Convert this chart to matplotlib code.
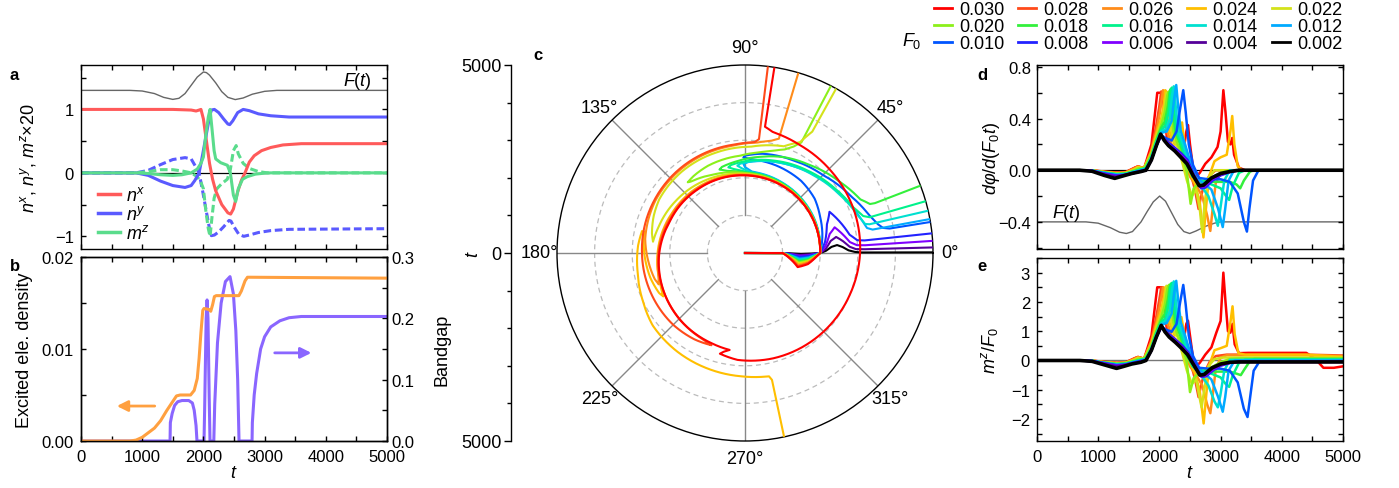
import numpy as np
import matplotlib
matplotlib.use('Agg')
import matplotlib.pyplot as plt
from matplotlib.lines import Line2D
from matplotlib.ticker import MultipleLocator, FixedLocator, FormatStrFormatter, FuncFormatter

plt.rcParams['font.family'] = ['Liberation Sans', 'DejaVu Sans']
plt.rcParams['mathtext.fontset'] = 'custom'
plt.rcParams['mathtext.rm'] = 'Liberation Sans'
plt.rcParams['mathtext.it'] = 'Liberation Sans:italic'
plt.rcParams['mathtext.bf'] = 'Liberation Sans:bold'
plt.rcParams['font.size'] = 12
plt.rcParams['axes.linewidth'] = 1.0

# ---------------- panel a : spin components ----------------
field_a = [(0, 1.30), (800, 1.30), (1000, 1.29), (1200, 1.25), (1350, 1.19), (1500, 1.158), (1600, 1.175),
           (1700, 1.25), (1800, 1.38), (1900, 1.51), (2000, 1.59), (2050, 1.58), (2100, 1.54), (2200, 1.42),
           (2300, 1.28), (2400, 1.19), (2520, 1.155), (2650, 1.18), (2800, 1.24), (3000, 1.285), (3200, 1.30),
           (5000, 1.30)]
nx_a = [(0, 1.0), (1500, 1.0), (1800, 0.99), (1880, 0.975), (1930, 0.99), (1960, 1.0), (2000, 0.85),
        (2050, 0.5), (2100, 0.15), (2150, -0.1), (2200, -0.28), (2300, -0.5), (2400, -0.63), (2445, -0.65),
        (2490, -0.57), (2560, -0.3), (2620, -0.12), (2680, 0.0), (2750, 0.17), (2830, 0.27), (2950, 0.35),
        (3100, 0.4), (3300, 0.44), (3600, 0.46), (5000, 0.46)]
ny_a = [(0, 0), (900, 0), (1100, -0.04), (1300, -0.13), (1500, -0.2), (1700, -0.23), (1800, -0.2),
        (1860, -0.12), (1930, 0.0), (1990, 0.3), (2050, 0.62), (2100, 0.88), (2130, 0.99), (2180, 1.0),
        (2250, 0.95), (2330, 0.85), (2400, 0.77), (2430, 0.76), (2480, 0.82), (2560, 0.95), (2650, 1.0),
        (2750, 0.98), (2900, 0.93), (3100, 0.9), (3400, 0.88), (5000, 0.88)]
nz_a = [(0, 0), (900, 0), (1100, 0.04), (1300, 0.13), (1500, 0.21), (1700, 0.24), (1800, 0.22),
        (1860, 0.12), (1930, 0.0), (1990, -0.3), (2050, -0.62), (2100, -0.88), (2130, -0.99), (2180, -0.98),
        (2250, -0.93), (2330, -0.85), (2420, -0.75), (2450, -0.76), (2500, -0.85), (2580, -0.97),
        (2660, -1.0), (2750, -0.98), (2900, -0.94), (3100, -0.91), (3400, -0.89), (5000, -0.88)]
mz_a = [(0, 0), (900, 0), (1100, -0.01), (1300, -0.03), (1500, -0.04), (1650, -0.03), (1800, 0.0),
        (1900, 0.06), (1960, 0.15), (2000, 0.25), (2040, 0.6), (2080, 0.88), (2109, 1.0), (2140, 0.7),
        (2175, 0.35), (2201, 0.22), (2283, 0.16), (2391, 0.12), (2440, 0.0), (2490, -0.35), (2527, -0.45),
        (2570, -0.25), (2640, -0.1), (2717, -0.06), (2850, -0.02), (3043, 0), (5000, 0)]
mperp_a = [(0, 0), (900, 0), (1100, 0.02), (1300, 0.05), (1500, 0.05), (1650, 0.03), (1800, 0.0),
           (1900, -0.06), (1960, -0.15), (2000, -0.25), (2040, -0.6), (2080, -0.88), (2109, -1.0),
           (2140, -0.7), (2175, -0.4), (2220, -0.25), (2300, -0.17), (2391, -0.1), (2440, 0.05),
           (2490, 0.35), (2535, 0.43), (2570, 0.3), (2650, 0.15), (2750, 0.07), (2900, 0.02), (3043, 0),
           (5000, 0)]

# ---------------- panel b : excitation and gap ----------------
density_b = [(0, 0), (800, 0), (900, 0.0001), (1000, 0.0004), (1100, 0.0009), (1200, 0.0014),
             (1300, 0.0022), (1400, 0.0033), (1500, 0.0043), (1560, 0.0049), (1620, 0.005), (1790, 0.005),
             (1850, 0.0055), (1900, 0.0068), (1930, 0.009), (1960, 0.0118), (1990, 0.0142), (2010, 0.0144),
             (2090, 0.0143), (2120, 0.0141), (2150, 0.0148), (2180, 0.0157), (2210, 0.0158), (2580, 0.0158),
             (2620, 0.0163), (2680, 0.0174), (2720, 0.0178), (2760, 0.0178), (5000, 0.0177)]
gap_b = [(0, 0), (1455, 0), (1460, 0.03), (1490, 0.045), (1530, 0.058), (1580, 0.064), (1650, 0.066),
         (1760, 0.066), (1820, 0.062), (1850, 0.05), (1880, 0.025), (1895, 0.0), (2010, 0.0), (2020, 0.05),
         (2045, 0.2), (2060, 0.23), (2075, 0.2), (2095, 0.07), (2108, 0.0), (2170, 0.0), (2185, 0.06),
         (2230, 0.16), (2290, 0.225), (2360, 0.26), (2435, 0.268), (2490, 0.24), (2530, 0.18), (2560, 0.1),
         (2582, 0.0), (2795, 0.0), (2800, 0.03), (2830, 0.075), (2870, 0.11), (2935, 0.15), (3000, 0.17),
         (3100, 0.186), (3250, 0.196), (3400, 0.201), (3600, 0.203), (5000, 0.203)]

# ---------------- field amplitudes ----------------
F0_values = [0.030, 0.028, 0.026, 0.024, 0.022, 0.020, 0.018, 0.016, 0.014, 0.012, 0.010, 0.008, 0.006,
             0.004, 0.002]
F0_colors = ['#ff0000', '#ff4a1a', '#ff8c1a', '#ffbf00', '#d4e21a', '#8cf01a', '#33f03c', '#00f28c',
             '#00e0d0', '#00aaff', '#0055ff', '#2222ff', '#8000ff', '#550099', '#000000']

# ---------------- panel c : phase (degrees) vs t ----------------
phase_030 = [(0, 0), (1000, 0), (1200, -7), (1450, -15), (1700, -10), (1900, -3), (2000, 0), (2030, 42),
             (2065, 90), (2110, 128), (2170, 158), (2280, 180), (2380, 203), (2480, 226), (2560, 250),
             (2610, 261), (2680, 258), (2760, 256), (2850, 266), (2900, 285), (2950, 312), (3000, 338),
             (3060, 360), (3110, 380), (3160, 403), (3220, 423), (3300, 437), (3400, 441), (5000, 441)]
phase_028 = [(0, 0), (1000, 0), (1200, -6.3), (1450, -14), (1700, -9), (1900, -2.8), (2000, 0), (2032, 40),
             (2070, 88), (2120, 125), (2180, 155), (2300, 180), (2450, 220), (2560, 245), (2610, 250),
             (2660, 240), (2700, 225), (2740, 180), (2790, 150), (2850, 120), (2900, 95), (2960, 85),
             (3050, 83), (5000, 83)]
phase_026 = [(0, 0), (1000, 0), (1200, -5.8), (1450, -13), (1700, -8.5), (1900, -2.6), (2000, 0), (2033, 38),
             (2075, 86), (2130, 122), (2200, 152), (2300, 178), (2380, 195), (2440, 200), (2500, 196),
             (2580, 185), (2680, 172), (2760, 150), (2820, 120), (2870, 97), (2950, 84), (3060, 77),
             (3170, 73.5), (5000, 73.5)]
phase_024 = [(0, 0), (1000, 0), (1200, -5.4), (1450, -12), (1700, -7.8), (1900, -2.4), (2000, 0), (2035, 36),
             (2080, 84), (2140, 120), (2210, 150), (2310, 176), (2400, 200), (2460, 208), (2520, 205),
             (2600, 195), (2680, 180), (2740, 168), (2800, 168), (2850, 176), (2900, 190), (3000, 205),
             (3120, 218), (3180, 235), (3230, 252), (3280, 268), (3340, 281), (3450, 282), (5000, 282)]
phase_022 = [(0, 0), (1000, 0), (1200, -5), (1450, -11), (1700, -7.2), (1900, -2.2), (2000, 0), (2038, 36),
             (2085, 80), (2120, 95), (2200, 118), (2300, 142), (2400, 163), (2465, 173), (2530, 168),
             (2620, 158), (2690, 148), (2740, 128), (2780, 106), (2830, 87), (3020, 70), (3290, 63.6),
             (3690, 61), (5000, 61)]
phase_020 = [(0, 0), (1000, 0), (1200, -4.5), (1450, -10), (1700, -6.5), (1900, -2), (2000, 0), (2040, 34),
             (2085, 66), (2125, 90), (2250, 112), (2380, 127), (2420, 129), (2460, 124), (2520, 113),
             (2590, 93), (2700, 82), (2810, 75), (2950, 69), (3100, 65.6), (3300, 63), (5000, 62.8)]
phase_018 = [(0, 0), (1000, 0), (1200, -4), (1450, -9), (1700, -6), (1900, -1.8), (2000, 0), (2045, 33),
             (2095, 64), (2135, 90), (2230, 102), (2320, 107), (2370, 105), (2450, 95), (2600, 80),
             (2750, 68), (2900, 54), (3150, 37), (3380, 25), (3570, 21.4), (3700, 21), (5000, 21)]
phase_016 = [(0, 0), (1000, 0), (1200, -3.6), (1450, -8), (1700, -5.3), (1900, -1.6), (2000, 0), (2050, 32),
             (2100, 62), (2145, 88), (2240, 97), (2320, 101), (2370, 99), (2440, 90), (2580, 72),
             (2760, 52), (2950, 35), (3120, 23), (3290, 17.4), (3450, 16), (5000, 16)]
phase_014 = [(0, 0), (1000, 0), (1200, -3.2), (1450, -7), (1700, -4.6), (1900, -1.4), (2000, 0), (2055, 30),
             (2105, 60), (2155, 86), (2250, 92), (2330, 95), (2380, 93), (2450, 85), (2580, 68),
             (2760, 48), (2950, 32), (3150, 19), (3285, 13.6), (3400, 13), (5000, 13)]
phase_012 = [(0, 0), (1000, 0), (1200, -2.7), (1450, -6), (1700, -4), (1900, -1.2), (2000, 0), (2060, 28),
             (2115, 60), (2170, 85), (2280, 90), (2370, 91), (2420, 88), (2500, 78), (2650, 60),
             (2850, 42), (3050, 27), (3220, 16), (3310, 11.6), (3450, 10.4), (5000, 10.4)]
phase_010 = [(0, 0), (1000, 0), (1200, -2.3), (1450, -5), (1700, -3.3), (1900, -1), (2000, 0), (2120, 14),
             (2220, 26), (2350, 38), (2430, 52), (2470, 70), (2500, 86), (2540, 91), (2590, 90), (2680, 80),
             (2780, 62), (2930, 45), (3200, 28), (3450, 17), (3600, 12.5), (3730, 10.3), (3900, 9.6),
             (5000, 9.5)]
phase_008 = [(0, 0), (1000, 0), (1200, -1.8), (1450, -4), (1700, -2.6), (1900, -0.8), (2000, 0), (2150, 8),
             (2300, 19), (2500, 26), (2660, 18), (2820, 10), (3000, 6.5), (3200, 6), (5000, 6)]
phase_006 = [(0, 0), (1000, 0), (1200, -1.4), (1450, -3), (1700, -2), (1900, -0.6), (2000, 0), (2150, 5),
             (2300, 12.5), (2480, 16), (2640, 11), (2800, 6), (2980, 4), (3200, 3.7), (5000, 3.7)]
phase_004 = [(0, 0), (1000, 0), (1200, -0.9), (1450, -2), (1700, -1.3), (1900, -0.4), (2000, 0), (2150, 3),
             (2300, 8), (2460, 10), (2620, 7), (2780, 3.5), (2950, 2), (3150, 1.8), (5000, 1.7)]
phase_002 = [(0, 0), (1000, 0), (1200, -0.4), (1450, -1), (1700, -0.6), (1900, -0.2), (2000, 0), (2150, 1.5),
             (2300, 4), (2450, 5), (2600, 3.5), (2750, 1.5), (2900, 0.6), (3100, 0.25), (5000, 0.2)]

# ---------------- panel d : dphi/d(F0 t) ----------------
field_d = [(0, -0.4), (800, -0.4), (1000, -0.41), (1200, -0.445), (1350, -0.48), (1460, -0.49), (1560, -0.475),
           (1700, -0.4), (1800, -0.32), (1900, -0.245), (2004, -0.2), (2100, -0.24), (2200, -0.33),
           (2300, -0.42), (2400, -0.475), (2495, -0.49), (2600, -0.47), (2750, -0.435), (2900, -0.41),
           (3000, -0.4), (5000, -0.4)]
rate_030 = [(0, 0), (700, 0), (900, -0.002), (1100, -0.01), (1300, -0.018), (1450, -0.014), (1600, 0.02),
            (1650, 0.03), (1750, 0.015), (1870, 0.2), (1930, 0.45), (1965, 0.6), (2050, 0.6), (2090, 0.4),
            (2130, 0.22), (2200, 0.17), (2300, 0.15), (2400, 0.17), (2440, 0.3), (2467, 0.35), (2500, 0.2),
            (2550, 0.02), (2600, -0.05), (2660, -0.02), (2750, 0.05), (2850, 0.1), (2950, 0.18), (3000, 0.3),
            (3045, 0.62), (3080, 0.45), (3120, 0.22), (3160, 0.2), (3190, 0.25), (3220, 0.12), (3300, 0.02),
            (3400, 0), (5000, 0)]
rate_028 = [(0, 0), (700, 0), (900, -0.002), (1100, -0.012), (1300, -0.02), (1450, -0.016), (1600, 0.02),
            (1650, 0.03), (1750, 0.015), (1870, 0.16), (1950, 0.35), (2000, 0.5), (2030, 0.61), (2070, 0.6),
            (2110, 0.35), (2160, 0.2), (2250, 0.15), (2350, 0.14), (2420, 0.1), (2500, 0.0), (2580, -0.15),
            (2640, -0.3), (2680, -0.2), (2740, -0.1), (2820, -0.04), (2920, 0), (5000, 0)]
rate_026 = [(0, 0), (700, 0), (900, -0.002), (1100, -0.013), (1300, -0.022), (1450, -0.018), (1600, 0.015),
            (1650, 0.028), (1750, 0.015), (1870, 0.15), (1950, 0.3), (2010, 0.45), (2060, 0.62), (2095, 0.6),
            (2130, 0.3), (2200, 0.2), (2300, 0.15), (2400, 0.08), (2500, -0.05), (2600, -0.12), (2700, -0.2),
            (2780, -0.35), (2832, -0.47), (2870, -0.3), (2920, -0.1), (3000, -0.02), (3100, 0), (5000, 0)]
rate_024 = [(0, 0), (700, 0), (900, -0.002), (1100, -0.014), (1300, -0.024), (1450, -0.02), (1600, 0.01),
            (1650, 0.025), (1750, 0.015), (1870, 0.14), (1950, 0.28), (2030, 0.4), (2070, 0.5), (2095, 0.62),
            (2130, 0.6), (2165, 0.3), (2250, 0.2), (2320, 0.3), (2370, 0.37), (2410, 0.2), (2480, 0.0),
            (2580, -0.1), (2660, -0.25), (2720, -0.52), (2760, -0.3), (2810, -0.05), (2900, 0.07),
            (3000, 0.1), (3100, 0.12), (3160, 0.3), (3190, 0.42), (3225, 0.2), (3280, 0.03), (3350, 0),
            (5000, 0)]
rate_022 = [(0, 0), (700, 0), (900, -0.003), (1100, -0.015), (1300, -0.026), (1450, -0.022), (1600, 0.005),
            (1650, 0.02), (1750, 0.015), (1870, 0.13), (1950, 0.26), (2030, 0.37), (2080, 0.48), (2115, 0.6),
            (2145, 0.6), (2180, 0.35), (2240, 0.22), (2300, 0.18), (2380, 0.05), (2450, -0.08), (2530, -0.2),
            (2600, -0.15), (2660, -0.3), (2700, -0.48), (2740, -0.25), (2800, -0.06), (2900, 0), (5000, 0)]
rate_020 = [(0, 0), (700, 0), (900, -0.003), (1100, -0.016), (1300, -0.028), (1450, -0.024), (1600, 0.0),
            (1660, 0.015), (1750, 0.015), (1870, 0.12), (1950, 0.24), (2030, 0.35), (2090, 0.45), (2130, 0.58),
            (2155, 0.61), (2185, 0.5), (2230, 0.3), (2300, 0.2), (2380, 0.12), (2450, -0.02), (2510, -0.26),
            (2560, -0.14), (2650, -0.1), (2750, -0.08), (2880, -0.05), (3000, -0.02), (3150, 0), (5000, 0)]
rate_018 = [(0, 0), (700, 0), (900, -0.003), (1100, -0.018), (1300, -0.03), (1450, -0.026), (1600, -0.005),
            (1700, 0.008), (1780, 0.018), (1870, 0.11), (1950, 0.23), (2030, 0.33), (2090, 0.38), (2140, 0.5),
            (2165, 0.6), (2185, 0.63), (2210, 0.5), (2260, 0.3), (2340, 0.2), (2440, 0.05), (2540, -0.05),
            (2650, -0.08), (2800, -0.09), (3000, -0.09), (3150, -0.09), (3260, -0.11), (3320, -0.14),
            (3380, -0.08), (3480, -0.01), (3550, 0), (5000, 0)]
rate_016 = [(0, 0), (700, 0), (900, -0.003), (1100, -0.02), (1300, -0.032), (1450, -0.028), (1600, -0.008),
            (1700, 0.005), (1780, 0.015), (1870, 0.1), (1950, 0.22), (2030, 0.31), (2100, 0.35), (2150, 0.45),
            (2180, 0.6), (2205, 0.64), (2235, 0.5), (2280, 0.3), (2360, 0.2), (2460, 0.05), (2550, -0.05),
            (2680, -0.08), (2850, -0.11), (3000, -0.14), (3090, -0.2), (3140, -0.23), (3200, -0.12),
            (3300, -0.02), (3400, 0), (5000, 0)]
rate_014 = [(0, 0), (700, 0), (900, -0.004), (1100, -0.02), (1300, -0.034), (1450, -0.03), (1600, -0.01),
            (1700, 0.002), (1780, 0.012), (1870, 0.1), (1950, 0.21), (2030, 0.3), (2110, 0.32), (2170, 0.4),
            (2205, 0.58), (2235, 0.65), (2265, 0.5), (2310, 0.3), (2390, 0.2), (2480, 0.05), (2570, -0.06),
            (2680, -0.12), (2800, -0.2), (2900, -0.34), (2955, -0.43), (2995, -0.3), (3060, -0.08),
            (3150, 0), (5000, 0)]
rate_012 = [(0, 0), (700, 0), (900, -0.004), (1100, -0.022), (1300, -0.036), (1450, -0.032), (1600, -0.012),
            (1700, 0.0), (1780, 0.01), (1870, 0.09), (1950, 0.2), (2030, 0.29), (2120, 0.3), (2200, 0.38),
            (2240, 0.55), (2275, 0.66), (2305, 0.5), (2350, 0.3), (2420, 0.2), (2520, 0.04), (2600, -0.06),
            (2720, -0.1), (2850, -0.15), (2960, -0.3), (3035, -0.44), (3075, -0.3), (3130, -0.08),
            (3220, 0), (5000, 0)]
rate_010 = [(0, 0), (700, 0), (900, -0.004), (1100, -0.025), (1300, -0.04), (1450, -0.035), (1600, -0.015),
            (1700, -0.003), (1780, 0.005), (1870, 0.08), (1950, 0.19), (2030, 0.27), (2100, 0.25),
            (2200, 0.23), (2280, 0.3), (2340, 0.48), (2390, 0.62), (2430, 0.45), (2480, 0.2), (2550, 0.04),
            (2650, -0.06), (2800, -0.07), (3000, -0.07), (3150, -0.09), (3280, -0.18), (3380, -0.4),
            (3430, -0.475), (3470, -0.3), (3530, -0.08), (3620, 0), (5000, 0)]
rate_008 = [(0, 0), (700, 0), (900, -0.005), (1100, -0.028), (1300, -0.042), (1420, -0.04), (1550, -0.025),
            (1700, -0.006), (1780, 0.0), (1870, 0.08), (1950, 0.19), (2030, 0.27), (2090, 0.24), (2160, 0.21),
            (2260, 0.17), (2360, 0.13), (2460, 0.08), (2560, -0.03), (2680, -0.14), (2750, -0.135),
            (2870, -0.08), (3000, -0.04), (3150, -0.015), (3300, 0), (5000, 0)]
rate_006 = [(0, 0), (700, 0), (900, -0.005), (1100, -0.03), (1290, -0.045), (1400, -0.04), (1550, -0.025),
            (1700, -0.008), (1780, 0.0), (1870, 0.08), (1950, 0.19), (2025, 0.27), (2080, 0.24), (2150, 0.2),
            (2250, 0.16), (2350, 0.12), (2450, 0.07), (2550, -0.03), (2670, -0.13), (2740, -0.125),
            (2860, -0.07), (3000, -0.035), (3150, -0.012), (3300, 0), (5000, 0)]
rate_004 = [(0, 0), (700, 0), (900, -0.006), (1100, -0.032), (1280, -0.05), (1400, -0.04), (1550, -0.025),
            (1700, -0.01), (1780, 0.0), (1870, 0.08), (1950, 0.19), (2025, 0.27), (2080, 0.23), (2150, 0.19),
            (2250, 0.15), (2350, 0.11), (2450, 0.06), (2550, -0.04), (2660, -0.125), (2730, -0.12),
            (2850, -0.065), (3000, -0.03), (3150, -0.01), (3300, 0), (5000, 0)]
rate_002 = [(0, 0), (700, 0), (900, -0.008), (1100, -0.04), (1270, -0.063), (1400, -0.045), (1550, -0.025),
            (1700, -0.01), (1780, 0.0), (1870, 0.08), (1950, 0.19), (2020, 0.28), (2080, 0.23), (2150, 0.19),
            (2250, 0.15), (2350, 0.1), (2450, 0.05), (2550, -0.04), (2650, -0.12), (2720, -0.115),
            (2850, -0.06), (3000, -0.025), (3150, -0.01), (3300, 0), (5000, 0)]

# ---------------- panel e : m^z / F0 ----------------
mzF_030 = [(0, 0), (700, 0), (900, -0.008), (1100, -0.045), (1300, -0.08), (1450, -0.06), (1600, 0.08),
           (1650, 0.12), (1750, 0.06), (1870, 0.85), (1930, 1.9), (1965, 2.5), (2050, 2.5), (2090, 1.65),
           (2130, 0.92), (2200, 0.72), (2300, 0.65), (2400, 0.72), (2440, 1.25), (2467, 1.36), (2500, 0.85),
           (2550, 0.08), (2600, -0.2), (2660, -0.08), (2750, 0.2), (2850, 0.45), (2930, 0.95), (3000, 1.35),
           (3045, 3.0), (3080, 2.0), (3120, 1.0), (3160, 0.95), (3195, 1.25), (3230, 0.55), (3300, 0.25),
           (3450, 0.26), (4400, 0.26), (4550, 0.05), (4680, -0.25), (4850, -0.25), (5000, -0.2)]
mzF_028 = [(0, 0), (700, 0), (900, -0.008), (1100, -0.05), (1300, -0.085), (1450, -0.07), (1600, 0.08),
           (1650, 0.12), (1750, 0.06), (1870, 0.7), (1950, 1.5), (2000, 2.1), (2030, 2.5), (2070, 2.45),
           (2110, 1.45), (2160, 0.85), (2250, 0.65), (2350, 0.6), (2420, 0.42), (2500, 0.0), (2580, -0.62),
           (2640, -1.25), (2680, -0.85), (2740, -0.4), (2820, -0.05), (2920, 0.15), (3100, 0.2), (4400, 0.2),
           (5000, 0.17)]
mzF_026 = [(0, 0), (700, 0), (900, -0.008), (1100, -0.055), (1300, -0.09), (1450, -0.075), (1600, 0.06),
           (1650, 0.11), (1750, 0.06), (1870, 0.65), (1950, 1.28), (2010, 1.9), (2060, 2.5), (2095, 2.45),
           (2130, 1.3), (2200, 0.85), (2300, 0.65), (2400, 0.35), (2500, -0.2), (2600, -0.5), (2700, -0.85),
           (2780, -1.5), (2832, -1.8), (2870, -1.2), (2920, -0.3), (3000, 0.1), (3100, 0.18), (4400, 0.18),
           (5000, 0.15)]
mzF_024 = [(0, 0), (700, 0), (900, -0.008), (1100, -0.06), (1300, -0.1), (1450, -0.08), (1600, 0.04),
           (1650, 0.1), (1750, 0.06), (1870, 0.6), (1950, 1.2), (2030, 1.72), (2070, 2.15), (2095, 2.5),
           (2130, 2.45), (2165, 1.3), (2250, 0.85), (2320, 1.25), (2360, 1.48), (2410, 0.85), (2480, 0.0),
           (2580, -0.42), (2660, -1.05), (2723, -2.15), (2760, -1.3), (2810, -0.2), (2900, 0.35), (3000, 0.42),
           (3100, 0.5), (3160, 1.3), (3195, 1.85), (3230, 0.9), (3290, 0.25), (3400, 0.2), (4400, 0.2),
           (5000, 0.12)]
mzF_022 = [(0, 0), (700, 0), (900, -0.01), (1100, -0.065), (1300, -0.1), (1450, -0.08), (1600, 0.02),
           (1650, 0.08), (1750, 0.06), (1870, 0.55), (1950, 1.1), (2030, 1.58), (2080, 2.05), (2115, 2.55),
           (2145, 2.5), (2180, 1.5), (2240, 0.95), (2300, 0.8), (2380, 0.2), (2450, -0.35), (2530, -0.8),
           (2600, -0.65), (2650, -1.2), (2690, -1.6), (2740, -0.9), (2800, -0.2), (2900, 0.05), (3050, 0.1),
           (5000, 0.1)]
mzF_020 = [(0, 0), (700, 0), (900, -0.01), (1100, -0.07), (1300, -0.11), (1450, -0.09), (1600, 0.0),
           (1660, 0.06), (1750, 0.06), (1870, 0.5), (1950, 1.02), (2030, 1.48), (2090, 1.9), (2130, 2.45),
           (2155, 2.58), (2185, 2.1), (2230, 1.3), (2300, 0.85), (2380, 0.5), (2450, -0.1), (2500, -1.08),
           (2560, -0.6), (2650, -0.42), (2750, -0.33), (2880, -0.2), (3000, -0.06), (3150, 0.05), (3300, 0.07),
           (5000, 0.07)]
mzF_018 = [(0, 0), (700, 0), (900, -0.012), (1100, -0.075), (1300, -0.12), (1450, -0.1), (1600, -0.02),
           (1700, 0.03), (1780, 0.07), (1870, 0.45), (1950, 0.97), (2030, 1.38), (2090, 1.6), (2140, 2.1),
           (2165, 2.5), (2185, 2.62), (2210, 2.1), (2260, 1.3), (2340, 0.85), (2440, 0.2), (2540, -0.2),
           (2650, -0.33), (2800, -0.38), (3000, -0.38), (3150, -0.38), (3260, -0.45), (3330, -0.5),
           (3390, -0.3), (3480, -0.02), (3550, 0.05), (5000, 0.05)]
mzF_016 = [(0, 0), (700, 0), (900, -0.012), (1100, -0.08), (1300, -0.13), (1450, -0.11), (1600, -0.03),
           (1700, 0.02), (1780, 0.06), (1870, 0.42), (1950, 0.92), (2030, 1.3), (2100, 1.45), (2150, 1.9),
           (2180, 2.5), (2205, 2.65), (2235, 2.1), (2280, 1.3), (2360, 0.85), (2460, 0.2), (2550, -0.2),
           (2680, -0.33), (2850, -0.45), (3000, -0.58), (3090, -0.82), (3140, -0.9), (3200, -0.5),
           (3300, -0.08), (3400, 0.03), (5000, 0.03)]
mzF_014 = [(0, 0), (700, 0), (900, -0.015), (1100, -0.085), (1300, -0.14), (1450, -0.12), (1600, -0.04),
           (1700, 0.01), (1780, 0.05), (1870, 0.4), (1950, 0.88), (2030, 1.26), (2110, 1.35), (2170, 1.7),
           (2205, 2.4), (2235, 2.7), (2265, 2.1), (2310, 1.3), (2390, 0.85), (2480, 0.2), (2570, -0.25),
           (2680, -0.5), (2800, -0.85), (2900, -1.4), (2955, -1.6), (2995, -1.2), (3060, -0.35), (3150, 0.02),
           (5000, 0.02)]
mzF_012 = [(0, 0), (700, 0), (900, -0.015), (1100, -0.09), (1300, -0.15), (1450, -0.13), (1600, -0.05),
           (1700, 0.0), (1780, 0.04), (1870, 0.38), (1950, 0.85), (2030, 1.22), (2120, 1.28), (2200, 1.6),
           (2240, 2.3), (2275, 2.72), (2305, 2.1), (2350, 1.3), (2420, 0.85), (2520, 0.15), (2600, -0.25),
           (2720, -0.42), (2850, -0.65), (2960, -1.25), (3035, -1.75), (3075, -1.25), (3130, -0.35),
           (3230, 0.0), (5000, 0.0)]
mzF_010 = [(0, 0), (700, 0), (900, -0.015), (1100, -0.09), (1300, -0.16), (1450, -0.14), (1600, -0.06),
           (1700, -0.01), (1780, 0.02), (1870, 0.35), (1950, 0.8), (2035, 1.15), (2110, 1.05), (2200, 0.98),
           (2280, 1.25), (2340, 2.0), (2390, 2.58), (2430, 1.9), (2480, 0.85), (2550, 0.15), (2650, -0.25),
           (2800, -0.28), (3000, -0.28), (3150, -0.35), (3280, -0.75), (3380, -1.65), (3440, -1.93),
           (3480, -1.3), (3540, -0.35), (3630, -0.05), (5000, -0.02)]
mzF_008 = [(0, 0), (700, 0), (900, -0.02), (1100, -0.1), (1300, -0.17), (1420, -0.15), (1550, -0.09),
           (1700, -0.03), (1780, 0.0), (1870, 0.35), (1950, 0.8), (2035, 1.15), (2100, 1.0), (2170, 0.88),
           (2270, 0.7), (2370, 0.52), (2470, 0.28), (2570, -0.1), (2690, -0.56), (2760, -0.54), (2890, -0.32),
           (3000, -0.18), (3150, -0.09), (3300, -0.04), (5000, -0.04)]
mzF_006 = [(0, 0), (700, 0), (900, -0.02), (1100, -0.11), (1300, -0.18), (1420, -0.16), (1550, -0.1),
           (1700, -0.04), (1780, 0.0), (1870, 0.35), (1950, 0.8), (2030, 1.16), (2090, 1.0), (2160, 0.85),
           (2260, 0.67), (2360, 0.48), (2460, 0.25), (2560, -0.12), (2680, -0.54), (2750, -0.52), (2880, -0.3),
           (3000, -0.16), (3150, -0.08), (3300, -0.05), (5000, -0.05)]
mzF_004 = [(0, 0), (700, 0), (900, -0.025), (1100, -0.12), (1300, -0.2), (1420, -0.17), (1550, -0.11),
           (1700, -0.05), (1780, 0.0), (1870, 0.35), (1950, 0.8), (2030, 1.18), (2090, 0.98), (2160, 0.82),
           (2260, 0.64), (2360, 0.45), (2460, 0.22), (2560, -0.14), (2670, -0.52), (2740, -0.5), (2870, -0.27),
           (3000, -0.14), (3150, -0.07), (3300, -0.05), (5000, -0.05)]
mzF_002 = [(0, 0), (700, 0), (900, -0.03), (1100, -0.15), (1300, -0.27), (1420, -0.2), (1550, -0.12),
           (1700, -0.06), (1780, 0.0), (1870, 0.35), (1950, 0.8), (2030, 1.2), (2090, 0.98), (2160, 0.8),
           (2260, 0.62), (2360, 0.42), (2460, 0.2), (2560, -0.15), (2660, -0.5), (2730, -0.48), (2860, -0.25),
           (3000, -0.12), (3150, -0.06), (3300, -0.05), (5000, -0.05)]

phase_curves = [phase_030, phase_028, phase_026, phase_024, phase_022, phase_020, phase_018, phase_016,
                phase_014, phase_012, phase_010, phase_008, phase_006, phase_004, phase_002]
rate_curves = [rate_030, rate_028, rate_026, rate_024, rate_022, rate_020, rate_018, rate_016, rate_014,
               rate_012, rate_010, rate_008, rate_006, rate_004, rate_002]
mzF_curves = [mzF_030, mzF_028, mzF_026, mzF_024, mzF_022, mzF_020, mzF_018, mzF_016, mzF_014, mzF_012,
              mzF_010, mzF_008, mzF_006, mzF_004, mzF_002]


def cols(pairs):
    arr = np.asarray(pairs, dtype=float)
    return arr[:, 0], arr[:, 1]


W, H = 1399, 489
fig = plt.figure(figsize=(W / 100, H / 100), dpi=100)


def box(left, top, right, bottom):
    return [left / W, 1 - bottom / H, (right - left) / W, (bottom - top) / H]


def style_box(ax):
    ax.tick_params(which='both', direction='in', top=True, right=True, length=3.5, width=1.0,
                   labelsize=12)
    ax.tick_params(axis='x', pad=5.5)
    ax.tick_params(axis='y', pad=5)
    ax.xaxis.set_major_locator(MultipleLocator(1000))
    ax.xaxis.set_minor_locator(MultipleLocator(500))
    ax.set_xlim(0, 5000)


def signed(fmt):
    return FuncFormatter(lambda v, p: ('\u2212' if v < -1e-9 else '') + fmt.format(abs(v)))


LABEL_FS = 13

# ---- a ----
ax_a = fig.add_axes(box(81, 66, 387, 250))
style_box(ax_a)
ax_a.set_ylim(-1.2, 1.7)
ax_a.yaxis.set_major_locator(FixedLocator([-1, 0, 1]))
ax_a.yaxis.set_minor_locator(MultipleLocator(0.5))
ax_a.yaxis.set_major_formatter(signed('{:.0f}'))
ax_a.tick_params(labelbottom=False)
c_red, c_blue, c_green = '#ff5a5a', '#5a5aff', '#5adc8c'
ax_a.plot([0, 3070], [0, 0], color='black', lw=0.9, zorder=1)
ax_a.plot(*cols(field_a), color='#666666', lw=1.0)
ax_a.plot(*cols(nz_a), color=c_blue, lw=2.2, ls=(0, (2.5, 1.2)))
ax_a.plot(*cols(mperp_a), color=c_green, lw=2.2, ls=(0, (2.5, 1.2)))
ax_a.plot(*cols(nx_a), color=c_red, lw=2.2)
ax_a.plot(*cols(ny_a), color=c_blue, lw=2.2)
ax_a.plot(*cols(mz_a), color=c_green, lw=2.2)
ax_a.text(4760, 1.45, r'$F$($t$)', ha='right', va='center', fontsize=LABEL_FS)
ax_a.set_ylabel(r'$n^x$, $n^y$, $m^z$×20', fontsize=LABEL_FS)
ax_a.yaxis.set_label_coords(-0.14, 0.5)
ax_a.legend([Line2D([], [], color=c, lw=2.5) for c in (c_red, c_blue, c_green)],
            [r'$n^x$', r'$n^y$', r'$m^z$'], loc='upper left', bbox_to_anchor=(0.02, 0.40),
            frameon=False, handlelength=1.2, handletextpad=0.35, labelspacing=0.05, fontsize=LABEL_FS,
            borderpad=0.1)

# ---- b ----
ax_b = fig.add_axes(box(81, 258, 387, 442))
style_box(ax_b)
ax_b.tick_params(right=False)
ax_b.set_ylim(0, 0.02)
ax_b.yaxis.set_major_locator(MultipleLocator(0.01))
ax_b.yaxis.set_minor_locator(MultipleLocator(0.005))
ax_b.yaxis.set_major_formatter(FormatStrFormatter('%.2f'))
ax_b2 = ax_b.twinx()
ax_b2.set_ylim(0, 0.3)
ax_b2.yaxis.set_major_locator(MultipleLocator(0.1))
ax_b2.yaxis.set_minor_locator(MultipleLocator(0.05))
ax_b2.yaxis.set_major_formatter(FormatStrFormatter('%.1f'))
ax_b2.tick_params(which='both', direction='in', length=3.5, width=1.0, labelsize=12, pad=3)
c_orange, c_purple = '#ffa040', '#8a66ff'
ax_b2.plot(*cols(gap_b), color=c_purple, lw=2.2)
ax_b.plot(*cols(density_b), color=c_orange, lw=2.2)
ax_b.set_zorder(ax_b2.get_zorder() + 1)
ax_b.patch.set_visible(False)
ax_b.annotate('', xy=(540, 0.0038), xytext=(1250, 0.0038),
              arrowprops=dict(arrowstyle='-|>', color=c_orange, lw=2, mutation_scale=16))
ax_b2.annotate('', xy=(3810, 0.1437), xytext=(3120, 0.1437),
               arrowprops=dict(arrowstyle='-|>', color=c_purple, lw=2, mutation_scale=16))
ax_b.set_ylabel('Excited ele. density', fontsize=LABEL_FS)
ax_b.yaxis.set_label_coords(-0.157, 0.5)
ax_b2.set_ylabel('Bandgap', fontsize=LABEL_FS)
ax_b2.yaxis.set_label_coords(1.152, 0.5)
ax_b.set_xlabel(r'$t$', fontsize=LABEL_FS, labelpad=0)

# ---- c ----
cx, cy, R = 745, 254, 188
ax_c = fig.add_axes(box(cx - R, cy - R, cx + R, cy + R), projection='polar')
ax_c.set_ylim(0, 5000)
ax_c.grid(False)
ax_c.set_yticks([])
ang = np.arange(0, 360, 45)
ax_c.set_xticks(np.deg2rad(ang))
ax_c.set_xticklabels([f'{a}\u00b0' for a in ang], fontsize=LABEL_FS)
ax_c.tick_params(axis='x', pad=2)
ax_c.spines['polar'].set_linewidth(1.0)
ring = np.linspace(0, 2 * np.pi, 361)
for rr in (1000, 2000, 3000, 4000):
    ax_c.plot(ring, np.full_like(ring, rr), color='#bbbbbb', lw=0.9, ls=(0, (4, 3)), zorder=1)
for a in ang:
    ax_c.plot([np.deg2rad(a)] * 2, [1000, 5000], color='#888888', lw=1.0, zorder=1)
for pairs, col in list(zip(phase_curves, F0_colors))[::-1]:
    tt, ph = cols(pairs)
    ln, = ax_c.plot(np.deg2rad(ph), tt, color=col, lw=1.5, zorder=3)
    # let the polar transform follow each segment along its spiral instead of a chord
    ln.recache()
    ln.get_path()._interpolation_steps = 40

ax_t = fig.add_axes([511 / W, 1 - (cy + R) / H, 0.0005, 2 * R / H])
ax_t.set_ylim(-5000, 5000)
ax_t.set_xticks([])
for s in ('top', 'right', 'bottom'):
    ax_t.spines[s].set_visible(False)
ax_t.patch.set_visible(False)
ax_t.set_yticks([-5000, 0, 5000])
ax_t.set_yticklabels(['5000', '0', '5000'])
ax_t.yaxis.set_minor_locator(MultipleLocator(1000))
ax_t.tick_params(which='major', direction='out', length=5, width=1, labelsize=LABEL_FS, pad=2)
ax_t.tick_params(which='minor', direction='out', length=3, width=1)
fig.text(473 / W, 1 - 254 / H, r'$t$', rotation=90, ha='center', va='center', fontsize=LABEL_FS)

# ---- d ----
ax_d = fig.add_axes(box(1037, 66, 1343, 250))
style_box(ax_d)
ax_d.tick_params(axis='y', pad=4)
ax_d.set_ylim(-0.61, 0.815)
ax_d.yaxis.set_major_locator(MultipleLocator(0.4))
ax_d.yaxis.set_minor_locator(MultipleLocator(0.2))
ax_d.yaxis.set_major_formatter(signed('{:.1f}'))
ax_d.tick_params(labelbottom=False)
ax_d.axhline(0, color='black', lw=0.9, zorder=1)
ax_d.plot(*cols(field_d), color='#666666', lw=1.0, zorder=1)
ax_d.text(250, -0.325, r'$F$($t$)', fontsize=LABEL_FS, ha='left', va='center')
for pairs, col in zip(rate_curves, F0_colors):
    ax_d.plot(*cols(pairs), color=col, lw=1.8 if col != '#000000' else 2.6)
ax_d.set_ylabel(r'$d\varphi/d(F_0t)$', fontsize=LABEL_FS)
ax_d.yaxis.set_label_coords(-0.115, 0.5)

# ---- e ----
ax_e = fig.add_axes(box(1037, 259, 1343, 442))
style_box(ax_e)
ax_e.set_ylim(-2.75, 3.5)
ax_e.yaxis.set_major_locator(MultipleLocator(1))
ax_e.yaxis.set_minor_locator(MultipleLocator(0.5))
ax_e.yaxis.set_major_formatter(signed('{:.0f}'))
ax_e.axhline(0, color='#777777', lw=1.0, zorder=1)
for pairs, col in zip(mzF_curves, F0_colors):
    ax_e.plot(*cols(pairs), color=col, lw=1.8 if col != '#000000' else 2.6)
ax_e.set_ylabel(r'$m^z/F_0$', fontsize=LABEL_FS)
ax_e.yaxis.set_label_coords(-0.121, 0.5)
ax_e.set_xlabel(r'$t$', fontsize=LABEL_FS, labelpad=0)

# ---- legend of field amplitudes ----
order = [r * 5 + c for c in range(5) for r in range(3)]
handles = [Line2D([], [], color=F0_colors[i], lw=2) for i in order]
labels = [f'{F0_values[i]:.3f}' for i in order]
fig.legend(handles, labels, ncol=5, loc='upper left', bbox_to_anchor=(934 / W, 1 - 2 / H), frameon=False,
           fontsize=13, handlelength=1.0, handletextpad=0.39, columnspacing=0.78, labelspacing=0.0,
           borderpad=0.0, borderaxespad=0.0)
fig.text(912 / W, 1 - 41 / H, r'$F_0$', fontsize=LABEL_FS, ha='center', va='center')

# ---- panel letters ----
for letter, x, y in (('a', 10, 75), ('b', 10, 267), ('c', 533, 55), ('d', 977, 75), ('e', 977, 267)):
    fig.text(x / W, 1 - y / H, letter, fontsize=12, fontweight='bold', ha='left', va='center')

fig.savefig('out.png', dpi=100)
